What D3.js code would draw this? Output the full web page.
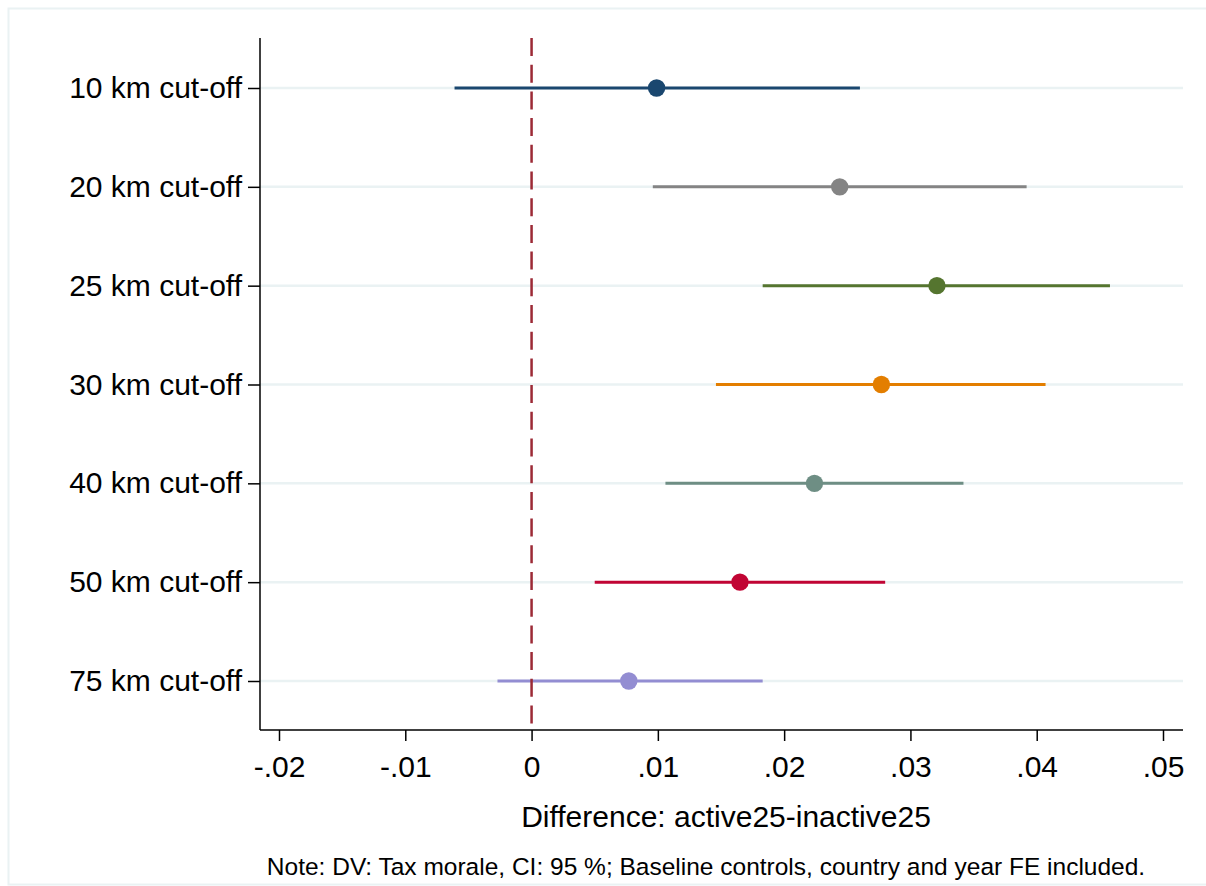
<!DOCTYPE html>
<html>
<head>
<meta charset="utf-8">
<script src="https://cdn.jsdelivr.net/npm/d3@7"></script>
<style>
  body { margin: 0; background: #fff; }
  text { font-family: "Liberation Sans", Arial, sans-serif; fill: #000; }
</style>
</head>
<body>
<div id="chart"></div>
<script>
// chart data
var labels = ["10 km cut-off", "20 km cut-off", "25 km cut-off", "30 km cut-off",
              "40 km cut-off", "50 km cut-off", "75 km cut-off"];
var estimates = [0.0099, 0.0244, 0.0321, 0.0277, 0.0224, 0.0165, 0.0077];
var ciLow = [-0.0061, 0.0096, 0.0183, 0.0146, 0.0106, 0.0050, -0.0027];
var ciHigh = [0.0260, 0.0392, 0.0458, 0.0407, 0.0342, 0.0280, 0.0183];
var colors = ["#1a476f", "#848484", "#55752f", "#e37e00", "#6e8e84", "#c10534", "#938dd2"];
var xTicks = [-0.02, -0.01, 0, 0.01, 0.02, 0.03, 0.04, 0.05];

var svgWidth = 1206;
var svgHeight = 886;
var font = "Liberation Sans, Arial, sans-serif";

var svg = d3.select("#chart")
  .append("svg")
  .attr("width", svgWidth)
  .attr("height", svgHeight);

// outer frame
svg.append("rect")
  .attr("x", 8.5).attr("y", 8.5)
  .attr("width", 1210).attr("height", 876)
  .attr("fill", "none")
  .attr("stroke", "#eaf2f3")
  .attr("stroke-width", 2);

var plot = { left: 260, right: 1183, top: 38, bottom: 730 };

var x = d3.scaleLinear()
  .domain([-0.02, 0.05])
  .range([279, 1163]);

var y = d3.scalePoint()
  .domain(labels)
  .range([88, 681]);

// gridlines
svg.append("g").selectAll("line")
  .data(labels)
  .enter()
  .append("line")
  .attr("x1", plot.left)
  .attr("x2", plot.right)
  .attr("y1", d => y(d))
  .attr("y2", d => y(d))
  .attr("stroke", "#eaf2f3")
  .attr("stroke-width", 2.5);

// confidence intervals
svg.append("g").selectAll("line")
  .data(labels)
  .enter()
  .append("line")
  .attr("x1", (d, i) => x(ciLow[i]))
  .attr("x2", (d, i) => x(ciHigh[i]))
  .attr("y1", d => y(d))
  .attr("y2", d => y(d))
  .attr("stroke", (d, i) => colors[i])
  .attr("stroke-width", 3);

// zero reference line (drawn over the CI lines)
svg.append("line")
  .attr("x1", x(0)).attr("x2", x(0))
  .attr("y1", plot.top).attr("y2", plot.bottom)
  .attr("stroke", "#9c2a36")
  .attr("stroke-width", 2.5)
  .attr("stroke-dasharray", "18,8.7");

// point estimates
svg.append("g").selectAll("circle")
  .data(labels)
  .enter()
  .append("circle")
  .attr("cx", (d, i) => x(estimates[i]))
  .attr("cy", d => y(d))
  .attr("r", 8.7)
  .attr("fill", (d, i) => colors[i]);

// axes
var bottomAxis = d3.axisBottom(x)
  .tickValues(xTicks)
  .tickSize(11)
  .tickPadding(15)
  .tickFormat(d => d === 0 ? "0" : d3.format(".2f")(d).replace("−", "-").replace("0.", "."));

var xg = svg.append("g")
  .attr("transform", `translate(0, ${plot.bottom})`)
  .call(bottomAxis);
xg.select(".domain").remove();
xg.append("line")
  .attr("x1", plot.left).attr("x2", plot.right)
  .attr("y1", 0).attr("y2", 0)
  .attr("stroke", "#000").attr("stroke-width", 1.5);
xg.selectAll(".tick line").attr("stroke", "#000").attr("stroke-width", 1.5);
xg.selectAll(".tick text").style("font-size", "30px").style("font-family", font);

var leftAxis = d3.axisLeft(y)
  .tickSize(12)
  .tickPadding(6);

var yg = svg.append("g")
  .attr("transform", `translate(${plot.left}, 0)`)
  .call(leftAxis);
yg.select(".domain").remove();
yg.append("line")
  .attr("x1", 0).attr("x2", 0)
  .attr("y1", plot.top).attr("y2", plot.bottom)
  .attr("stroke", "#000").attr("stroke-width", 1.5);
yg.selectAll(".tick line").attr("stroke", "#000").attr("stroke-width", 1.5);
yg.selectAll(".tick text").style("font-size", "30px").style("font-family", font);

// axis title
svg.append("text")
  .attr("x", 726)
  .attr("y", 827)
  .attr("text-anchor", "middle")
  .style("font-size", "30px")
  .text("Difference: active25-inactive25");

// note
svg.append("text")
  .attr("x", 706)
  .attr("y", 875)
  .attr("text-anchor", "middle")
  .style("font-size", "24.5px")
  .text("Note: DV: Tax morale, CI: 95 %; Baseline controls, country and year FE included.");
</script>
</body>
</html>
